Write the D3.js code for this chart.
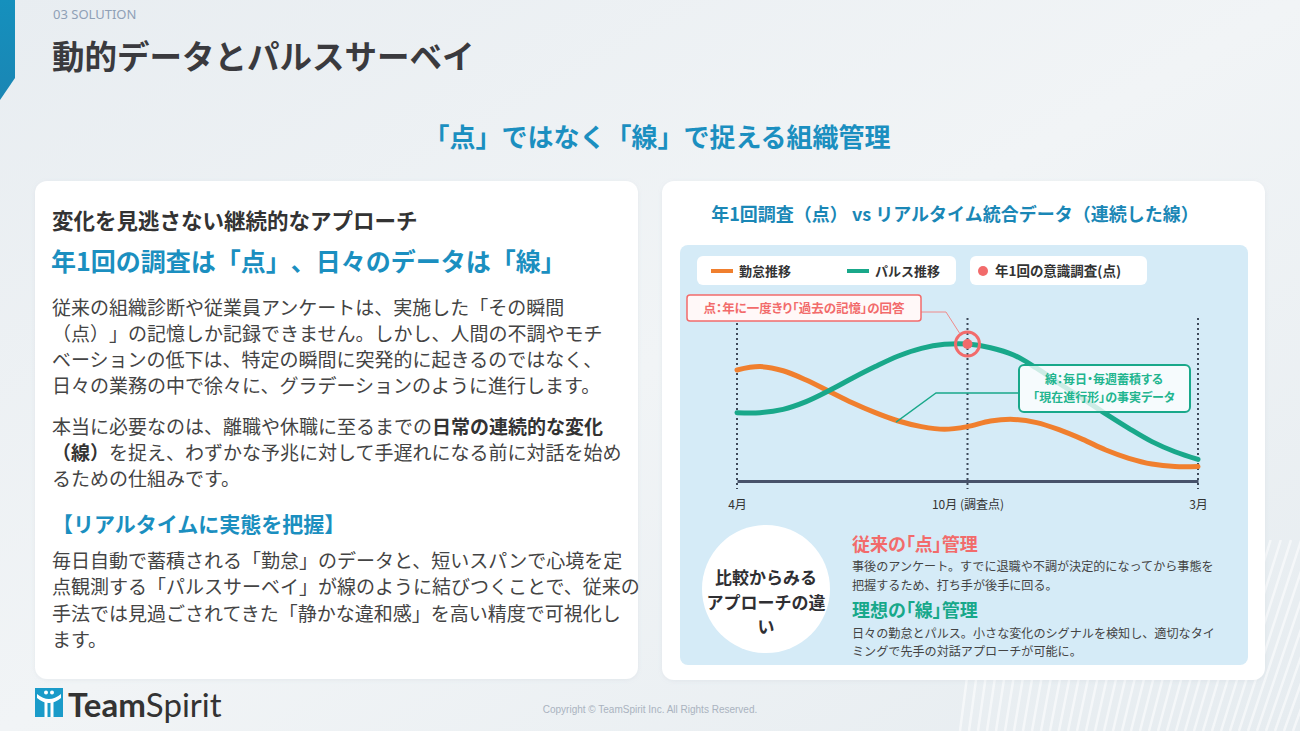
<!DOCTYPE html>
<html lang="ja">
<head>
<meta charset="utf-8">
<script src="https://cdn.jsdelivr.net/npm/d3@7"></script>
<style>
  html, body { margin: 0; padding: 0; width: 1300px; height: 731px; overflow: hidden; background: #eef2f5; }
  svg { display: block; font-family: "Noto Sans CJK JP", "Noto Sans", sans-serif; text-spacing-trim: space-all; }
  .palt { font-feature-settings: "palt"; }
</style>
</head>
<body>
<svg id="slide" width="1300" height="731"></svg>
<script>
// ---------------- data ----------------
// period position: 0 = April, 5 = October (survey), 10 = March
const periodT = [0, 0.5, 1, 1.5, 2, 2.5, 3, 3.5, 4, 4.5, 5, 5.5, 6, 6.5, 7, 7.5, 8, 8.5, 9, 9.5, 10];
const kintaiValues = [69.4, 71.5, 68.9, 63.1, 56.0, 48.9, 42.7, 37.5, 34.0, 32.3, 34.0, 37.5, 38.5, 36.5, 31.9, 26.0, 19.4, 14.2, 10.6, 9.0, 9.0];   // 勤怠推移
const pulseValues  = [42.7, 42.7, 44.8, 49.6, 56.5, 64.2, 71.5, 78.1, 82.9, 85.4, 85.6, 83.3, 78.8, 70.5, 60.8, 51.5, 41.9, 32.9, 24.6, 18.3, 13.5]; // パルス推移
const tickPositions = [0, 5, 10];
const tickLabels = ["4月", "10月 (調査点)", "3月"];
const surveyIndex = 10;                                        // 年1回の意識調査 (10月)
const legendLabels = ["勤怠推移", "パルス推移", "年1回の意識調査(点)"];
const seriesColors = { kintai: "#f07f2e", pulse: "#19a88a", survey: "#f26b6b" };

const para1 = [
  "従来の組織診断や従業員アンケートは、実施した「その瞬間",
  "（点）」の記憶しか記録できません。しかし、人間の不調やモチ",
  "ベーションの低下は、特定の瞬間に突発的に起きるのではなく、",
  "日々の業務の中で徐々に、グラデーションのように進行します。"
];
const para2 = [
  [["本当に必要なのは、離職や休職に至るまでの", false], ["日常の連続的な変化", true]],
  [["（線）", true], ["を捉え、わずかな予兆に対して手遅れになる前に対話を始め", false]],
  [["るための仕組みです。", false]]
];
const para3 = [
  "毎日自動で蓄積される「勤怠」のデータと、短いスパンで心境を定",
  "点観測する「パルスサーベイ」が線のように結びつくことで、従来の",
  "手法では見過ごされてきた「静かな違和感」を高い精度で可視化し",
  "ます。"
];

// ---------------- layout ----------------
const svg = d3.select("#slide");
const defs = svg.append("defs");
const bg = defs.append("linearGradient").attr("id", "bg").attr("x1", 0).attr("y1", 0).attr("x2", 1).attr("y2", 1);
bg.append("stop").attr("offset", "0%").attr("stop-color", "#e8edf1");
bg.append("stop").attr("offset", "50%").attr("stop-color", "#f1f4f6");
bg.append("stop").attr("offset", "100%").attr("stop-color", "#e6ecf0");
const bar = defs.append("linearGradient").attr("id", "bar").attr("x1", 0).attr("y1", 0).attr("x2", 0).attr("y2", 1);
bar.append("stop").attr("offset", "0%").attr("stop-color", "#1590bd");
bar.append("stop").attr("offset", "100%").attr("stop-color", "#1a86b4");
const sh = defs.append("filter").attr("id", "shadow").attr("x", "-5%").attr("y", "-5%").attr("width", "110%").attr("height", "110%");
sh.append("feDropShadow").attr("dx", 0).attr("dy", 1).attr("stdDeviation", 2).attr("flood-color", "#8899aa").attr("flood-opacity", 0.12);

svg.append("rect").attr("width", 1300).attr("height", 731).attr("fill", "url(#bg)");

// decorative faint stripes bottom-right
const stripes = svg.append("g").attr("stroke", "#ffffff").attr("stroke-opacity", 0.55).attr("fill", "none");
d3.range(0, 40).forEach(i => {
  const x0 = 960 + i * 9;
  stripes.append("line").attr("x1", x0).attr("y1", 731).attr("x2", x0 + 25 + i * 1.2).attr("y2", 540).attr("stroke-width", 2.5);
});

// header
svg.append("path").attr("d", "M0,0H15V78L0,100Z").attr("fill", "url(#bar)");
svg.append("text").attr("x", 53).attr("y", 19).attr("font-size", 13).attr("fill", "#8fa0b6")
  .attr("font-family", "'Noto Sans', sans-serif").text("03 SOLUTION");
svg.append("text").attr("x", 52).attr("y", 69).attr("font-size", 32.5).attr("font-weight", 700).attr("fill", "#3a3a3e")
  .text("動的データとパルスサーベイ");
svg.append("text").attr("x", 657).attr("y", 147).attr("text-anchor", "middle").attr("font-size", 26).attr("font-weight", 700)
  .attr("fill", "#1b8fc0").text("「点」ではなく「線」で捉える組織管理");

// ---------------- left card ----------------
svg.append("rect").attr("x", 35).attr("y", 181).attr("width", 603).attr("height", 498).attr("rx", 12)
  .attr("fill", "#ffffff").attr("filter", "url(#shadow)");
svg.append("text").attr("x", 52).attr("y", 229).attr("font-size", 21.5).attr("font-weight", 700).attr("fill", "#333")
  .text("変化を見逃さない継続的なアプローチ");
svg.append("text").attr("x", 51).attr("y", 271).attr("font-size", 25).attr("font-weight", 700).attr("fill", "#1b8fc0")
  .text("年1回の調査は「点」、日々のデータは「線」");

const bodyG = svg.append("g").attr("font-size", 19).attr("fill", "#444");
bodyG.selectAll("text.p1").data(para1).join("text").attr("class", "p1")
  .attr("x", 52).attr("y", (d, i) => 315 + i * 26).text(d => d);
bodyG.selectAll("text.p2").data(para2).join("text").attr("class", "p2")
  .attr("x", 52).attr("y", (d, i) => 434 + i * 26)
  .each(function(parts) {
    d3.select(this).selectAll("tspan").data(parts).join("tspan")
      .attr("font-weight", p => p[1] ? 700 : 400).attr("fill", p => p[1] ? "#333" : "#444").text(p => p[0]);
  });
svg.append("text").attr("x", 52).attr("y", 532).attr("font-size", 21).attr("font-weight", 700).attr("fill", "#1b8fc0")
  .text("【リアルタイムに実態を把握】");
bodyG.selectAll("text.p3").data(para3).join("text").attr("class", "p3")
  .attr("x", 52).attr("y", (d, i) => 568 + i * 26.3).text(d => d);

// ---------------- right card ----------------
svg.append("rect").attr("x", 662).attr("y", 181).attr("width", 603).attr("height", 499).attr("rx", 12)
  .attr("fill", "#ffffff").attr("filter", "url(#shadow)");
svg.append("text").attr("x", 955).attr("y", 221).attr("text-anchor", "middle").attr("font-size", 18).attr("font-weight", 700)
  .attr("fill", "#1a87b6").text("年1回調査（点） vs リアルタイム統合データ（連続した線）");
svg.append("rect").attr("x", 680).attr("y", 245).attr("width", 568).attr("height", 420).attr("rx", 8).attr("fill", "#d5ebf7");

// scales
const x = d3.scaleLinear().domain([0, 10]).range([737, 1198]);
const y = d3.scaleLinear().domain([0, 100]).range([481, 321]);

const chart = svg.append("g");

// vertical dotted guides
chart.selectAll("line.guide").data(tickPositions).join("line").attr("class", "guide")
  .attr("x1", d => x(d)).attr("x2", d => x(d)).attr("y1", y(100) - 3).attr("y2", 489)
  .attr("stroke", "#3f4a5a").attr("stroke-width", 2).attr("stroke-dasharray", "2,3");

// axis
const axis = chart.append("g").attr("transform", `translate(0,${y(0)})`)
  .call(d3.axisBottom(x).tickValues(tickPositions).tickFormat((d, i) => tickLabels[i]).tickSize(0).tickSizeOuter(0).tickPadding(19));
axis.select(".domain").attr("stroke", "#47526a").attr("stroke-width", 3);
axis.selectAll("text").attr("font-size", 12).attr("fill", "#333").attr("font-family", "'Noto Sans CJK JP', sans-serif");

// lines
const line = d3.line().x(d => x(d[0])).y(d => y(d[1])).curve(d3.curveCatmullRom.alpha(0.5));
chart.append("path").datum(periodT.map((t, i) => [t, kintaiValues[i]])).attr("d", line)
  .attr("fill", "none").attr("stroke", seriesColors.kintai).attr("stroke-width", 5).attr("stroke-linecap", "round");
chart.append("path").datum(periodT.map((t, i) => [t, pulseValues[i]])).attr("d", line)
  .attr("fill", "none").attr("stroke", seriesColors.pulse).attr("stroke-width", 5).attr("stroke-linecap", "round");

// survey point
const sx = x(periodT[surveyIndex]), sy = y(pulseValues[surveyIndex]);
chart.append("circle").attr("cx", sx).attr("cy", sy).attr("r", 12).attr("fill", "none")
  .attr("stroke", seriesColors.survey).attr("stroke-width", 3);
chart.append("circle").attr("cx", sx).attr("cy", sy).attr("r", 5).attr("fill", seriesColors.survey);

// annotation: point
chart.append("path").attr("d", `M921,312H946L${sx - 8},${sy - 11}`).attr("fill", "none")
  .attr("stroke", "#f08a8a").attr("stroke-width", 1);
chart.append("rect").attr("x", 687).attr("y", 295).attr("width", 234).attr("height", 26).attr("rx", 3)
  .attr("fill", "#fff8f8").attr("stroke", seriesColors.survey).attr("stroke-width", 1.5);
chart.append("text").attr("class", "palt").attr("x", 804).attr("y", 312.5).attr("text-anchor", "middle")
  .attr("font-size", 12.5).attr("font-weight", 700).attr("fill", seriesColors.survey)
  .text("点：年に一度きり「過去の記憶」の回答");

// annotation: line
chart.append("path").attr("d", `M${x(3.45)},${y(36.8)}L936,393H1019`).attr("fill", "none")
  .attr("stroke", seriesColors.pulse).attr("stroke-width", 1.3);
chart.append("rect").attr("x", 1019).attr("y", 365).attr("width", 171).attr("height", 47).attr("rx", 5)
  .attr("fill", "#ffffff").attr("fill-opacity", 0.78).attr("stroke", seriesColors.pulse).attr("stroke-width", 2);
chart.append("text").attr("class", "palt").attr("x", 1104).attr("y", 384).attr("text-anchor", "middle")
  .attr("font-size", 12).attr("font-weight", 700).attr("fill", "#22b58f").text("線：毎日・毎週蓄積する");
chart.append("text").attr("class", "palt").attr("x", 1104).attr("y", 401.6).attr("text-anchor", "middle")
  .attr("font-size", 12).attr("font-weight", 700).attr("fill", "#22b58f").text("「現在進行形」の事実データ");

// legend
const legend = svg.append("g").attr("font-size", 13).attr("font-weight", 700).attr("fill", "#333");
legend.append("rect").attr("x", 697).attr("y", 256).attr("width", 259).attr("height", 29).attr("rx", 6).attr("fill", "#fff");
legend.append("rect").attr("x", 970).attr("y", 256).attr("width", 177).attr("height", 29).attr("rx", 6).attr("fill", "#fff");
const legendItems = [
  { label: legendLabels[0], color: seriesColors.kintai, type: "line", x: 711 },
  { label: legendLabels[1], color: seriesColors.pulse, type: "line", x: 847 },
  { label: legendLabels[2], color: seriesColors.survey, type: "dot", x: 978 }
];
legendItems.forEach(it => {
  if (it.type === "line") {
    legend.append("line").attr("x1", it.x).attr("x2", it.x + 22).attr("y1", 271).attr("y2", 271)
      .attr("stroke", it.color).attr("stroke-width", 4);
    legend.append("text").attr("x", it.x + 28).attr("y", 275.5).text(it.label);
  } else {
    legend.append("circle").attr("cx", it.x + 5).attr("cy", 271).attr("r", 5).attr("fill", it.color);
    legend.append("text").attr("class", "palt").attr("x", it.x + 17).attr("y", 275.5).attr("font-size", 13.5).text(it.label);
  }
});

// comparison section
svg.append("circle").attr("cx", 766).attr("cy", 589).attr("r", 64).attr("fill", "#ffffff");
const circText = ["比較からみる", "アプローチの違", "い"];
svg.append("g").selectAll("text").data(circText).join("text")
  .attr("x", 766).attr("y", (d, i) => 584 + i * 24.5).attr("text-anchor", "middle")
  .attr("font-size", 17).attr("font-weight", 700).attr("fill", "#2f2f33").text(d => d);

const cmp = svg.append("g");
cmp.append("text").attr("class", "palt").attr("x", 852).attr("y", 551).attr("font-size", 18).attr("font-weight", 700)
  .attr("fill", seriesColors.survey).text("従来の「点」管理");
cmp.append("text").attr("x", 852).attr("y", 571).attr("font-size", 12.1).attr("fill", "#444")
  .text("事後のアンケート。すでに退職や不調が決定的になってから事態を");
cmp.append("text").attr("x", 852).attr("y", 589.5).attr("font-size", 12.1).attr("fill", "#444")
  .text("把握するため、打ち手が後手に回る。");
cmp.append("text").attr("class", "palt").attr("x", 852).attr("y", 617).attr("font-size", 18).attr("font-weight", 700)
  .attr("fill", "#17a88a").text("理想の「線」管理");
cmp.append("text").attr("x", 852).attr("y", 637.5).attr("font-size", 12.1).attr("fill", "#444")
  .text("日々の勤怠とパルス。小さな変化のシグナルを検知し、適切なタイ");
cmp.append("text").attr("x", 852).attr("y", 656).attr("font-size", 12.1).attr("fill", "#444")
  .text("ミングで先手の対話アプローチが可能に。");

// ---------------- footer ----------------
const logo = svg.append("g");
logo.append("rect").attr("x", 35).attr("y", 688).attr("width", 28).attr("height", 29).attr("fill", "#1a9bc9");
logo.append("circle").attr("cx", 46).attr("cy", 692.5).attr("r", 2).attr("fill", "#fff");
logo.append("circle").attr("cx", 52).attr("cy", 692.5).attr("r", 2).attr("fill", "#fff");
logo.append("path").attr("d", "M37,694 Q49,704 61,694 L61,698 Q49,708 37,698 Z").attr("fill", "#fff");
logo.append("rect").attr("x", 44.5).attr("y", 701).attr("width", 3).attr("height", 16).attr("fill", "#fff");
logo.append("rect").attr("x", 50.5).attr("y", 701).attr("width", 3).attr("height", 16).attr("fill", "#fff");
const brand = logo.append("text").attr("x", 68).attr("y", 717).attr("font-size", 33).attr("fill", "#333")
  .attr("font-family", "Lato, 'Open Sans', sans-serif");
brand.append("tspan").attr("font-weight", 700).text("Team");
brand.append("tspan").attr("font-weight", 400).text("Spirit");

svg.append("text").attr("x", 650).attr("y", 713).attr("text-anchor", "middle").attr("font-size", 10)
  .attr("fill", "#aab3bf").attr("font-family", "'Liberation Sans', Arial, sans-serif")
  .text("Copyright © TeamSpirit Inc. All Rights Reserved.");
</script>
</body>
</html>
